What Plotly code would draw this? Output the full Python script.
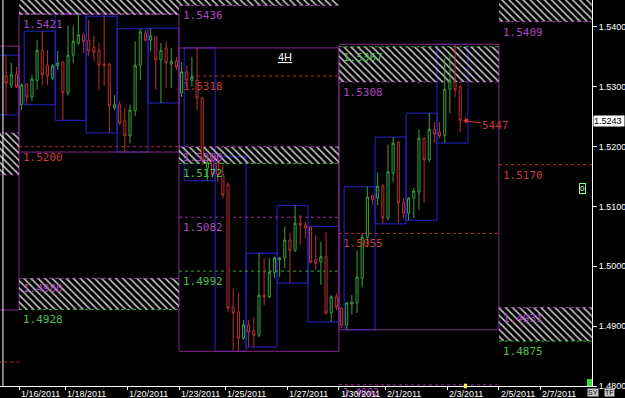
import plotly.graph_objects as go

# ---------------- data (4H bars; bar 0 = Sunday bar of week 1/16/2011) ----------------
bar_x = list(range(-3, 87))

open_ = [1.5318, 1.5303, 1.5321,
         # week 1/16
         1.5270, 1.5305, 1.5283, 1.5311, 1.5361, 1.5336, 1.5315, 1.5335, 1.5341, 1.5290, 1.5353,
         1.5373, 1.5387, 1.5378, 1.5366, 1.5361, 1.5338, 1.5338, 1.5265, 1.5270, 1.5243, 1.5218,
         1.5260, 1.5336, 1.5390, 1.5378, 1.5383, 1.5345, 1.5365, 1.5338, 1.5343,
         # week 1/23
         1.5290, 1.5325, 1.5311, 1.5311, 1.5281, 1.5164, 1.5178, 1.5173, 1.5153, 1.5136, 1.4932,
         1.4924, 1.4880, 1.4902, 1.4892, 1.4885, 1.4952, 1.4949, 1.4990, 1.5011, 1.5014, 1.5044,
         1.5027, 1.5072, 1.5069, 1.5066, 1.5011, 1.5007, 1.5016, 1.4922, 1.4949,
         # week 1/30
         1.4930, 1.4902, 1.4937, 1.4939, 1.4980, 1.5049, 1.5118, 1.5114, 1.5134, 1.5081, 1.5156,
         1.5208, 1.5106, 1.5089, 1.5114, 1.5124, 1.5214, 1.5178, 1.5229, 1.5224, 1.5219, 1.5296,
         1.5308, 1.5300, 1.5244]
high_ = [1.5353, 1.5340, 1.5333,
         1.5306, 1.5306, 1.5320, 1.5378, 1.5393, 1.5361, 1.5338, 1.5360, 1.5343, 1.5402, 1.5402,
         1.5422, 1.5390, 1.5412, 1.5385, 1.5373, 1.5418, 1.5340, 1.5286, 1.5276, 1.5265, 1.5270,
         1.5376, 1.5397, 1.5395, 1.5398, 1.5385, 1.5373, 1.5376, 1.5365, 1.5350,
         1.5341, 1.5336, 1.5350, 1.5365, 1.5283, 1.5183, 1.5183, 1.5183, 1.5169, 1.5141, 1.4964,
         1.4955, 1.4910, 1.4910, 1.4915, 1.5022, 1.5014, 1.5014, 1.5016, 1.5016, 1.5066, 1.5056,
         1.5102, 1.5086, 1.5074, 1.5067, 1.5052, 1.5041, 1.5057, 1.4952, 1.4955,
         1.4932, 1.4940, 1.4952, 1.5027, 1.5056, 1.5133, 1.5119, 1.5156, 1.5138, 1.5203, 1.5216,
         1.5208, 1.5114, 1.5116, 1.5131, 1.5228, 1.5216, 1.5256, 1.5241, 1.5241, 1.5348, 1.5356,
         1.5371, 1.5303, 1.5250]
low_ = [1.5253, 1.5298, 1.5298,
        1.5261, 1.5270, 1.5276, 1.5295, 1.5303, 1.5303, 1.5311, 1.5328, 1.5244, 1.5285, 1.5340,
        1.5370, 1.5356, 1.5351, 1.5343, 1.5295, 1.5301, 1.5223, 1.5261, 1.5236, 1.5191, 1.5206,
        1.5251, 1.5311, 1.5376, 1.5360, 1.5295, 1.5273, 1.5298, 1.5298, 1.5328,
        1.5283, 1.5298, 1.5300, 1.5261, 1.5169, 1.5143, 1.5148, 1.5141, 1.5114, 1.4924, 1.4860,
        1.4858, 1.4877, 1.4865, 1.4865, 1.4882, 1.4935, 1.4947, 1.4980, 1.4982, 1.4997, 1.4972,
        1.5024, 1.5036, 1.5047, 1.5005, 1.4994, 1.4969, 1.4919, 1.4907, 1.4927,
        1.4897, 1.4894, 1.4919, 1.4922, 1.4965, 1.5032, 1.5102, 1.5102, 1.5071, 1.5077, 1.5141,
        1.5072, 1.5081, 1.5077, 1.5081, 1.5094, 1.5107, 1.5174, 1.5206, 1.5214, 1.5206, 1.5256,
        1.5283, 1.5224, 1.5239]
close_ = [1.5306, 1.5320, 1.5300,
          1.5303, 1.5283, 1.5313, 1.5361, 1.5320, 1.5318, 1.5335, 1.5340, 1.5290, 1.5353, 1.5376,
          1.5387, 1.5376, 1.5360, 1.5358, 1.5336, 1.5336, 1.5268, 1.5270, 1.5239, 1.5218, 1.5261,
          1.5336, 1.5392, 1.5378, 1.5385, 1.5345, 1.5361, 1.5340, 1.5343, 1.5333,
          1.5325, 1.5311, 1.5316, 1.5281, 1.5178, 1.5174, 1.5153, 1.5153, 1.5119, 1.4930, 1.4922,
          1.4880, 1.4902, 1.4890, 1.4885, 1.4952, 1.4949, 1.4990, 1.5014, 1.5014, 1.5044, 1.5027,
          1.5072, 1.5069, 1.5064, 1.5007, 1.5005, 1.5016, 1.4922, 1.4949, 1.4932,
          1.4902, 1.4939, 1.4940, 1.4982, 1.5049, 1.5116, 1.5112, 1.5134, 1.5081, 1.5158, 1.5206,
          1.5106, 1.5089, 1.5114, 1.5126, 1.5214, 1.5178, 1.5229, 1.5221, 1.5218, 1.5296, 1.5310,
          1.5295, 1.5244, 1.5243]

week_first_bar = [0, 31, 62]
prev_day_bars = [-3, -2, -1]
prev_week_high = 1.5368
prev_week_low = 1.4927

# weekly levels: x-extent (bar units), price, kind (p=purple, r=red, g=green)
level_x0 = [-4.5, -4.5, -4.5,
            -0.5, -0.5, -0.5, -0.5,
            30.5, 30.5, 30.5, 30.5, 30.5, 30.5,
            61.5, 61.5, 61.5, 61.5,
            92.5, 92.5, 92.5, 92.5]
level_x1 = [-0.5, -0.5, -0.5,
            30.5, 30.5, 30.5, 30.5,
            61.5, 61.5, 61.5, 61.5, 61.5, 61.5,
            92.5, 92.5, 92.5, 92.5,
            110.5, 110.5, 110.5, 110.5]
level_price = [1.5223, 1.5153, 1.4840,
               1.5421, 1.5200, 1.4980, 1.4928,
               1.5436, 1.5318, 1.5200, 1.5172, 1.5082, 1.4992,
               1.5367, 1.5308, 1.5055, 1.4802,
               1.5409, 1.5170, 1.4931, 1.4875]
level_kind = ['p', 'p', 'r',
              'p', 'r', 'p', 'g',
              'p', 'r', 'p', 'g', 'p', 'g',
              'g', 'p', 'r', 'p',
              'p', 'r', 'p', 'g']

# hatched zones
zone_x0 = [-4.5, -0.5, -0.5, 30.5, 30.5, 61.5, 92.5, 92.5]
zone_x1 = [-0.5, 30.5, 30.5, 61.5, 61.5, 92.5, 110.5, 110.5]
zone_lo = [1.5153, 1.5421, 1.4928, 1.5436, 1.5172, 1.5308, 1.5409, 1.4875]
zone_hi = [1.5223, 1.5480, 1.4980, 1.5480, 1.5200, 1.5367, 1.5480, 1.4931]

date_tick_x = [-0.5, 8.5, 20.5, 30.5, 39.5, 51.5, 61.5, 70.5, 82.5, 92.5, 100.5]
date_tick_text = ['1/16/2011', '1/18/2011', '1/20/2011', '1/23/2011', '1/25/2011', '1/27/2011',
                  '1/30/2011', '2/1/2011', '2/3/2011', '2/5/2011', '2/7/2011']

price_ticks = [1.48, 1.49, 1.50, 1.51, 1.52, 1.53, 1.54]

# ---------------- styles ----------------
GREEN = '#3aa43a'
RED = '#b8322c'
LVL_COL = {'p': '#9a2ca6', 'r': '#b83030', 'g': '#38a838'}
LBL_COL = {'p': '#b043c4', 'r': '#c83a3a', 'g': '#4cc04c'}
WEEK_COL = '#86268e'
DAY_COL = '#2424d0'
LBL_FONT = 'DejaVu Sans Mono'

fig = go.Figure()

# hatched zones
fig.add_trace(go.Bar(
    x=[(a + b) / 2 for a, b in zip(zone_x0, zone_x1)],
    y=[h - l for l, h in zip(zone_lo, zone_hi)],
    base=zone_lo,
    width=[b - a for a, b in zip(zone_x0, zone_x1)],
    marker=dict(color='#c4c4c4', line=dict(width=0),
                pattern=dict(shape='\\', size=5, solidity=0.32, fillmode='replace')),
    hoverinfo='skip', showlegend=False))

# candles
fig.add_trace(go.Candlestick(
    x=bar_x, open=open_, high=high_, low=low_, close=close_,
    increasing=dict(line=dict(color=GREEN, width=1), fillcolor='black'),
    decreasing=dict(line=dict(color=RED, width=1), fillcolor='black'),
    whiskerwidth=0, hoverinfo='skip', showlegend=False))

shapes = []
first = bar_x[0]


def hi_lo(bars):
    hs = [high_[b - first] for b in bars]
    ls = [low_[b - first] for b in bars]
    return max(hs), min(ls)


# day boxes
groups = [(prev_day_bars, -4.5)]
for s in week_first_bar:
    for d in range(5):
        g = [b for b in range(s + 1 + d * 6, s + 7 + d * 6) if b in bar_x]
        if g:
            groups.append((g, g[0] - 0.5))
for g, x0 in groups:
    h, l = hi_lo(g)
    shapes.append(dict(type='rect', xref='x', yref='y', x0=x0, x1=g[-1] + 0.5, y0=l, y1=h,
                       line=dict(color=DAY_COL, width=1), layer='below'))

# week boxes
shapes.append(dict(type='rect', xref='x', yref='y', x0=-4.5, x1=-0.5,
                   y0=prev_week_low, y1=prev_week_high,
                   line=dict(color=WEEK_COL, width=1), layer='below'))
for s in week_first_bar:
    wb = [b for b in range(s, s + 31) if b in bar_x]
    h, l = hi_lo(wb)
    shapes.append(dict(type='rect', xref='x', yref='y', x0=s - 0.5, x1=s + 30.5, y0=l, y1=h,
                       line=dict(color=WEEK_COL, width=1), layer='below'))

# level lines + labels
annotations = []
for x0, x1, p, k in zip(level_x0, level_x1, level_price, level_kind):
    shapes.append(dict(type='line', xref='x', yref='y', x0=x0, x1=x1, y0=p, y1=p,
                       line=dict(color=LVL_COL[k], width=1, dash='dot'), layer='below'))
    if x0 > -1:
        low_edge = p < 1.4805
        annotations.append(dict(x=x0, y=p, xref='x', yref='y', xanchor='left', yanchor='top',
                                xshift=2, yshift=0 if low_edge else -2, showarrow=False,
                                text=f'{p:.4f}',
                                font=dict(family=LBL_FONT, size=10 if low_edge else 11,
                                          color=LBL_COL[k])))

# left white marker line
shapes.append(dict(type='line', xref='paper', yref='paper', x0=0.005, x1=0.005, y0=0, y1=1,
                   line=dict(color='white', width=1)))
# current bar marker on time axis
shapes.append(dict(type='rect', xref='x', yref='paper', x0=bar_x[-1] - 0.3, x1=bar_x[-1] + 0.3,
                   y0=-0.006, y1=0.006, line=dict(width=0), fillcolor='#ffff40'))
# green corner square
shapes.append(dict(type='rect', xref='paper', yref='paper', x0=0.9915, x1=1.0, y0=0.0, y1=0.018,
                   line=dict(width=0), fillcolor='#30e030'))

# date labels
for tx, tt in zip(date_tick_x, date_tick_text):
    annotations.append(dict(x=tx, y=0, xref='x', yref='paper', xanchor='left', yanchor='top',
                            yshift=-1, showarrow=False, text=tt,
                            font=dict(family='Liberation Sans', size=9, color='white')))

# timeframe label
annotations.append(dict(x=0.482, y=0.872, xref='paper', yref='paper', showarrow=False,
                        text='<u>4H</u>', font=dict(family='Liberation Sans', size=11, color='white')))
# arrow note
annotations.append(dict(x=bar_x[-1] - 0.5, y=high_[-1] - 0.0006, xref='x', yref='y',
                        ax=33, ay=5, showarrow=True, arrowhead=2, arrowwidth=1, arrowsize=1,
                        arrowcolor='#c83a3a', text='5447',
                        font=dict(family=LBL_FONT, size=11, color='#c83a3a')))
# current price box
annotations.append(dict(x=1.0, y=close_[-1], xref='paper', yref='y', xanchor='left',
                        yanchor='middle', xshift=1, showarrow=False, text=f'{close_[-1]:.4f} ',
                        bgcolor='white', borderpad=0,
                        font=dict(family='Liberation Sans', size=9, color='black')))
# small widgets
annotations.append(dict(x=0.9905, y=0.512, xref='paper', yref='paper', showarrow=False, text='0',
                        bordercolor='#90ff90', borderwidth=1, borderpad=0, bgcolor='black',
                        font=dict(family='Liberation Sans', size=8, color='white')))
annotations.append(dict(x=1.0125, y=0, xref='paper', yref='paper', yanchor='bottom', yshift=-11,
                        showarrow=False, text='SY', bgcolor='#c8c8c8', borderpad=0,
                        font=dict(family='Liberation Sans', size=7, color='black')))
annotations.append(dict(x=1.0385, y=0, xref='paper', yref='paper', yanchor='bottom', yshift=-11,
                        showarrow=False, text='TF', bgcolor='#c8c8c8', borderpad=0,
                        font=dict(family='Liberation Sans', size=7, color='black')))

fig.update_layout(
    width=625, height=398,
    margin=dict(l=0, r=33, t=0, b=12, pad=0),
    paper_bgcolor='black', plot_bgcolor='black',
    barmode='overlay', boxgap=0.42,
    showlegend=False,
    shapes=shapes, annotations=annotations,
    xaxis=dict(range=[-4.19, 110.54], showgrid=False, zeroline=False, showline=True,
               linecolor='white', linewidth=1, ticks='outside', ticklen=3, tickcolor='white',
               tickvals=date_tick_x, showticklabels=False, rangeslider=dict(visible=False),
               fixedrange=True),
    yaxis=dict(range=[1.4800, 1.54451], side='right', showgrid=False, zeroline=False,
               showline=True, linecolor='white', linewidth=1, ticks='outside', ticklen=4,
               tickcolor='white', tickvals=price_ticks, tickformat='.4f',
               tickfont=dict(family='Liberation Sans', size=9, color='white'), fixedrange=True),
)

fig.write_html('out.html')
